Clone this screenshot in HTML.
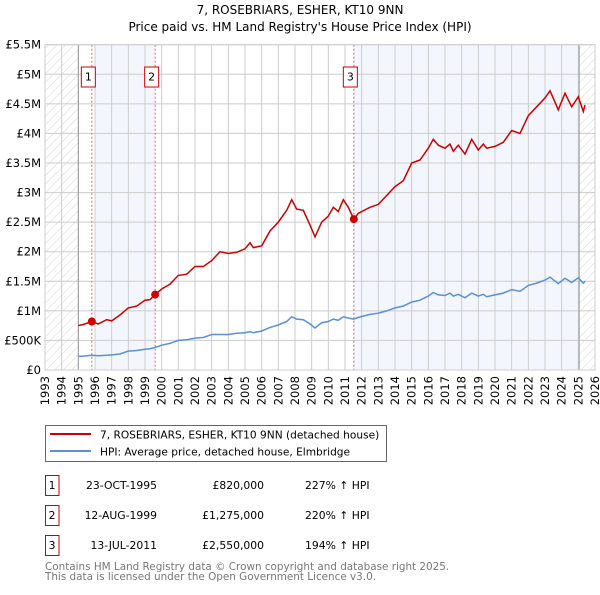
<!DOCTYPE html>
<html><head><meta charset="utf-8"><style>
body{margin:0;background:#fff;}
svg text{font-family:"DejaVu Sans","Liberation Sans",sans-serif;}
</style></head><body>
<svg id="c" width="600" height="590" xmlns="http://www.w3.org/2000/svg">
<defs><pattern id="hatch" width="6" height="6" patternUnits="userSpaceOnUse" patternTransform="rotate(45)"><line x1="0" y1="0" x2="0" y2="6" stroke="#d4d4d4" stroke-width="1"/></pattern></defs>
<text x="300" y="14" text-anchor="middle" font-size="12" fill="#000">7, ROSEBRIARS, ESHER, KT10 9NN</text>
<text x="300" y="31" text-anchor="middle" font-size="12" fill="#000">Price paid vs. HM Land Registry's House Price Index (HPI)</text>
<g id="plot"></g>
<g>
<rect x="45.5" y="425.5" width="341" height="36" fill="#fff" stroke="#666"/>
<line x1="50" y1="434" x2="91" y2="434" stroke="#cc0000" stroke-width="2"/>
<text x="100" y="438.5" font-size="10.6">7, ROSEBRIARS, ESHER, KT10 9NN (detached house)</text>
<line x1="50" y1="451" x2="91" y2="451" stroke="#5b8fd6" stroke-width="2"/>
<text x="100" y="455.5" font-size="10.6">HPI: Average price, detached house, Elmbridge</text>
</g>
<g id="tbl" font-size="10.8"></g>
<text x="45" y="570" font-size="10.4" fill="#777">Contains HM Land Registry data © Crown copyright and database right 2025.</text>
<text x="45" y="580" font-size="10.4" fill="#777">This data is licensed under the Open Government Licence v3.0.</text>
</svg>
<script>
const dates=[1995.0,1995.3,1995.8,1996.2,1996.7,1997.0,1997.5,1998.0,1998.5,1999.0,1999.3,1999.6,2000.0,2000.5,2001.0,2001.5,2002.0,2002.5,2003.0,2003.5,2004.0,2004.5,2005.0,2005.3,2005.5,2006.0,2006.5,2007.0,2007.5,2007.8,2008.1,2008.5,2008.9,2009.2,2009.6,2010.0,2010.3,2010.6,2010.9,2011.2,2011.53,2011.8,2012.5,2013.0,2013.5,2014.0,2014.5,2015.0,2015.5,2016.0,2016.3,2016.6,2017.0,2017.3,2017.5,2017.8,2018.2,2018.6,2019.0,2019.3,2019.5,2020.0,2020.5,2021.0,2021.5,2022.0,2022.5,2023.0,2023.3,2023.8,2024.2,2024.6,2025.0,2025.3,2025.4];
const priceM=[0.75,0.77,0.82,0.78,0.85,0.83,0.93,1.05,1.08,1.18,1.19,1.275,1.37,1.45,1.6,1.62,1.75,1.75,1.85,2.0,1.97,1.99,2.05,2.15,2.07,2.1,2.35,2.5,2.7,2.88,2.72,2.7,2.45,2.25,2.5,2.6,2.75,2.68,2.88,2.75,2.55,2.65,2.75,2.8,2.95,3.1,3.2,3.5,3.55,3.75,3.9,3.8,3.75,3.82,3.7,3.8,3.65,3.9,3.72,3.82,3.75,3.78,3.85,4.05,4.0,4.3,4.45,4.6,4.72,4.4,4.68,4.45,4.62,4.37,4.48];
const hpiM=[0.23,0.235,0.25,0.24,0.25,0.255,0.27,0.32,0.33,0.35,0.36,0.38,0.42,0.45,0.5,0.51,0.54,0.55,0.6,0.6,0.6,0.62,0.63,0.65,0.63,0.66,0.72,0.76,0.82,0.9,0.86,0.85,0.78,0.71,0.8,0.82,0.86,0.84,0.9,0.88,0.86,0.89,0.94,0.96,1.0,1.05,1.08,1.15,1.18,1.25,1.31,1.27,1.26,1.3,1.25,1.28,1.22,1.3,1.25,1.28,1.24,1.27,1.3,1.36,1.33,1.43,1.47,1.52,1.57,1.46,1.55,1.48,1.56,1.47,1.5];
const yTicks=[0,0.5,1,1.5,2,2.5,3,3.5,4,4.5,5,5.5];
const yTickLabels=["£0","£500K","£1M","£1.5M","£2M","£2.5M","£3M","£3.5M","£4M","£4.5M","£5M","£5.5M"];
const saleDates=[1995.81,1999.61,2011.53];
const salePrices=[0.82,1.275,2.55];
const saleLabels=["1","2","3"];
const saleDateText=["23-OCT-1995","12-AUG-1999","13-JUL-2011"];
const salePriceText=["£820,000","£1,275,000","£2,550,000"];
const saleHpiText=["227% ↑ HPI","220% ↑ HPI","194% ↑ HPI"];
const X0=45,X1=595,Y0=370,Y1=44.7,XMIN=1993,XMAX=2026,YMAX=5.5;
const xs=v=>X0+(v-XMIN)/(XMAX-XMIN)*(X1-X0);
const ys=v=>Y0-v/YMAX*(Y0-Y1);
const NS="http://www.w3.org/2000/svg";
const g=document.getElementById('plot');
function mk(t,a,p){const e=document.createElementNS(NS,t);for(const k in a)e.setAttribute(k,a[k]);(p||g).appendChild(e);return e;}
let e;
e=mk('rect',{x:X0,y:Y1,width:X1-X0,height:Y0-Y1,fill:'#fff'});


e=mk('rect',{x:xs(1993),y:Y1,width:xs(1995)-xs(1993),height:Y0-Y1,fill:'url(#hatch)'});


e=mk('rect',{x:xs(2025.05),y:Y1,width:X1-xs(2025.05),height:Y0-Y1,fill:'url(#hatch)'});


e=mk('rect',{x:xs(1996),y:Y1,width:xs(saleDates[1])-xs(1996),height:Y0-Y1,fill:'#eef3fc',opacity:0.7});


e=mk('rect',{x:xs(saleDates[2]),y:Y1,width:xs(2025.05)-xs(saleDates[2]),height:Y0-Y1,fill:'#eef3fc',opacity:0.7});


for(let y=XMIN;y<=XMAX;y++){
 e=mk('line',{x1:xs(y),x2:xs(y),y1:Y1,y2:Y0,stroke:'#ccc','stroke-width':1});
 
 
 e=mk('text',{x:0,y:0,'font-size':11.5,'text-anchor':'end',transform:`translate(${xs(y)+4},${Y0+6}) rotate(-90)`});
 e.textContent=y;
 
 
}
yTicks.forEach((v,i)=>{
 e=mk('line',{x1:X0,x2:X1,y1:ys(v),y2:ys(v),stroke:'#ccc','stroke-width':1});
 
 
 e=mk('text',{x:X0-4,y:ys(v)+4,'font-size':11.5,'text-anchor':'end'});
 e.textContent=yTickLabels[i];
 
 
});
e=mk('line',{x1:xs(1995),x2:xs(1995),y1:Y1,y2:Y0,stroke:'#999','stroke-width':1});


e=mk('line',{x1:xs(2025.05),x2:xs(2025.05),y1:Y1,y2:Y0,stroke:'#999','stroke-width':1});


saleDates.forEach((d,i)=>{
 e=mk('line',{x1:xs(d),x2:xs(d),y1:Y1,y2:Y0,stroke:'#e06060','stroke-width':1,'stroke-dasharray':'2,2'});
 
 
 e=mk('rect',{x:xs(d)-10.5,y:67,width:14,height:20,fill:'#fff',stroke:'#cc0000'});
 
 
 e=mk('text',{x:xs(d)-3.5,y:80.5,'font-size':11,'text-anchor':'middle'});
 e.textContent=saleLabels[i];
 
 
});
const pth=arr=>dates.map((d,i)=>(i?'L':'M')+xs(d).toFixed(1)+','+ys(arr[i]).toFixed(1)).join('');
e=mk('path',{d:pth(hpiM),fill:'none',stroke:'#5b8fd6','stroke-width':1.5});


e=mk('path',{d:pth(priceM),fill:'none',stroke:'#cc0000','stroke-width':1.5});


saleDates.forEach((d,i)=>{
 e=mk('circle',{cx:xs(d),cy:ys(salePrices[i]),r:4,fill:'#cc0000'});
 
 
});
e=mk('rect',{x:X0,y:Y1,width:X1-X0,height:Y0-Y1,fill:'none',stroke:'#ccc'});


const t=document.getElementById('tbl');
saleLabels.forEach((l,i)=>{
 const y=475+i*30;
 e=mk('rect',{x:45.5,y:y+0.5,width:13.5,height:20,fill:'#fff',stroke:'#cc0000'},t);
 
 
 e=mk('text',{x:52,y:y+14,'text-anchor':'middle'},t);e.textContent=l;
 
 
 e=mk('text',{x:157,y:y+14,'text-anchor':'end'},t);e.textContent=saleDateText[i];
 
 
 e=mk('text',{x:264,y:y+14,'text-anchor':'end'},t);e.textContent=salePriceText[i];
 
 
 e=mk('text',{x:305,y:y+14},t);e.textContent=saleHpiText[i];
 
 
});
</script>
</body></html>
